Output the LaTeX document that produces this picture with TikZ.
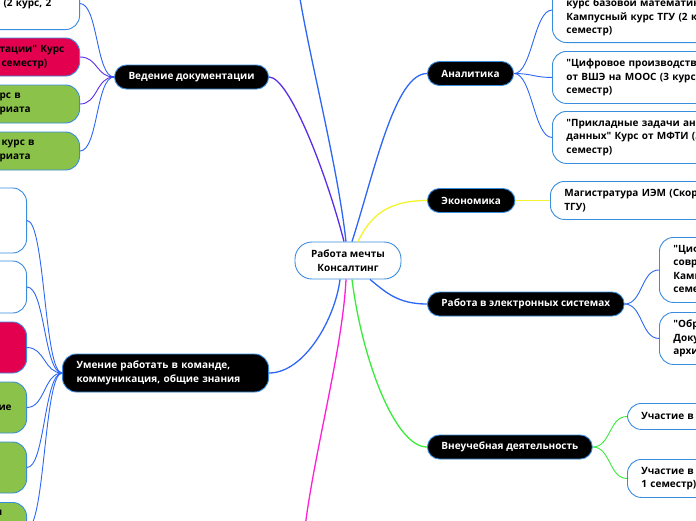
\documentclass[tikz,border=0pt]{standalone}
\usepackage{fontspec}
\setmainfont{Open Sans}[Ligatures=TeXOff]
\usetikzlibrary{positioning}

\definecolor{edgeblue}{HTML}{3A8DDE}
\definecolor{linkblue}{HTML}{2E66F5}
\definecolor{linkpurple}{HTML}{5A2DE8}
\definecolor{linkyellow}{HTML}{F4F42E}
\definecolor{linkgreen}{HTML}{3BEB3B}
\definecolor{linkpink}{HTML}{FF1FD8}
\definecolor{leafred}{HTML}{E2004F}
\definecolor{leafgreen}{HTML}{8BC34A}

\tikzset{
  root/.style={draw=edgeblue, line width=0.9pt, fill=white, rounded corners=17pt, align=center, minimum width=106pt, minimum height=37pt, inner sep=0pt},
  topic/.style={draw=edgeblue, line width=0.9pt, fill=black, text=white, rounded corners=12pt, align=left, inner xsep=14pt, inner ysep=0pt, minimum height=24pt},
  leaf/.style={draw=edgeblue, line width=0.9pt, fill=white, rounded corners=14pt, align=left, inner xsep=14pt, inner ysep=0pt},
  leafred/.style={leaf, fill=leafred},
  leafgreen/.style={leaf, fill=leafgreen},
  rightleaf/.style={leaf, text width=260pt, anchor=north west},
  leftleaf/.style={text width=66pt, anchor=east},
  lowleaf/.style={text width=14pt, anchor=east},
  mainlink/.style={line width=1.3pt},
  sublink/.style={line width=0.9pt}
}

\begin{document}
\begin{tikzpicture}[x=1pt, y=-1pt, every node/.append style={font=\fontsize{10pt}{13.5pt}\selectfont\bfseries}]
\useasboundingbox (0,0) rectangle (696,520);
\clip (0,0) rectangle (696,520);
\fill[white] (0,0) rectangle (696,520);

\node[root] (dream) at (348,260.5) {Работа мечты\\Консалтинг};

\node[topic, anchor=east] (docs) at (269,77) {Ведение документации};
\node[topic, anchor=west] (analytics) at (427,73.5) {Аналитика};
\node[topic, anchor=west] (economy) at (427,200.5) {Экономика};
\node[topic, anchor=west] (esystems) at (427,304) {Работа в электронных системах};
\node[topic, anchor=west] (extra) at (427,447) {Внеучебная деятельность};
\node[topic, anchor=east, minimum height=38pt, text width=178pt, rounded corners=14pt] (team) at (269,373) {Умение работать в команде,\\коммуникация, общие знания};

\node[rightleaf, minimum height=65pt, anchor=south west] (anl1) at (552,43) {\strut\\курс базовой математики\\Кампусный курс ТГУ (2 курс, 2\\семестр)};
\node[rightleaf, minimum height=52pt] (anl2) at (552,51) {"Цифровое производство"\\от ВШЭ на МООС (3 курс, 1\\семестр)};
\node[rightleaf, minimum height=52pt] (anl3) at (552,111) {"Прикладные задачи анализа\\данных" Курс от МФТИ (3 курс,\\семестр)};
\node[rightleaf, minimum height=38pt] (eco1) at (550,181) {Магистратура ИЭМ (Скорость\\ТГУ)};
\node[rightleaf, minimum height=65pt] (esys1) at (659,237) {"Цифровая\\современного\\Кампусный\\семестр)};
\node[rightleaf, minimum height=52pt] (esys2) at (659,312) {"Обработка\\Документов\\архивов};
\node[rightleaf, minimum height=26pt] (extra1) at (627,403) {Участие в олимпиадах};
\node[rightleaf, minimum height=38pt] (extra2) at (627,459) {Участие в конференциях\\1 семестр)};

\node[leaf, leftleaf, minimum height=52pt, anchor=south east] (doc1) at (80,30) {\strut\\\hspace*{4pt}(2 курс, 2\\\strut};
\node[leafred, leftleaf, minimum height=38pt] (doc2) at (80,57) {тации" Курс\\\hspace*{2pt}семестр)};
\node[leafgreen, leftleaf, minimum height=38pt] (doc3) at (80,104) {рс в\\риата};
\node[leafgreen, leftleaf, minimum height=38pt] (doc4) at (80,151) {\hspace*{2pt}курс в\\риата};

\node[leaf, lowleaf, minimum height=65pt] (team1) at (27,220.5) {};
\node[leaf, lowleaf, minimum height=52pt] (team2) at (27,287) {};
\node[leafred, lowleaf, minimum height=51pt] (team3) at (27,347.5) {};
\node[leafgreen, lowleaf, minimum height=51pt] (team4) at (27,407.5) {\strut\\ие\\\strut};
\node[leafgreen, lowleaf, minimum height=51pt] (team5) at (27,467.5) {};
\node[leafgreen, lowleaf, minimum height=52pt, anchor=north east] (team6) at (27,502) {\hspace*{-3pt}н\\\strut\\\strut};

\coordinate (offtop) at (295,-40);
\coordinate (offbottom) at (302,560);

\draw[mainlink, linkpurple] ([xshift=-4pt]dream.north) .. controls +(-18,-70) and +(20,0) .. (docs.east);
\draw[mainlink, linkblue] ([xshift=-2pt]dream.north) .. controls +(-10,-90) and +(4,60) .. (offtop);
\draw[mainlink, linkblue] ([xshift=4pt]dream.north) .. controls +(23,-72) and +(-32,0) .. (analytics.west);
\draw[mainlink, linkyellow] ([xshift=10pt]dream.north) .. controls +(12,-25) and +(-40,0) .. (economy.west);
\draw[mainlink, linkblue] ([xshift=22pt]dream.south) .. controls +(15,12) and +(-30,0) .. (esystems.west);
\draw[mainlink, linkblue] ([xshift=-8pt]dream.south) .. controls +(-5,40) and +(35,0) .. (team.east);
\draw[mainlink, linkpink] ([xshift=-2pt]dream.south) .. controls +(-4,80) and +(4,-80) .. (offbottom);
\draw[mainlink, linkgreen] ([xshift=4pt]dream.south) .. controls +(10,80) and +(-32,0) .. (extra.west);

\draw[sublink, linkblue] (analytics.east) .. controls +(18,0) and +(-18,0) .. (anl1.west);
\draw[sublink, linkblue] (analytics.east) .. controls +(18,0) and +(-18,0) .. (anl2.west);
\draw[sublink, linkblue] (analytics.east) .. controls +(18,0) and +(-18,0) .. (anl3.west);
\draw[sublink, linkyellow] (economy.east) -- (eco1.west);
\draw[sublink, linkblue] (esystems.east) .. controls +(18,0) and +(-18,0) .. (esys1.west);
\draw[sublink, linkblue] (esystems.east) .. controls +(18,0) and +(-18,0) .. (esys2.west);
\draw[sublink, linkgreen] (extra.east) .. controls +(18,0) and +(-18,0) .. (extra1.west);
\draw[sublink, linkgreen] (extra.east) .. controls +(18,0) and +(-18,0) .. (extra2.west);

\draw[sublink, linkblue] (docs.west) .. controls +(-18,0) and +(18,0) .. (doc1.east);
\draw[sublink, linkpurple] (docs.west) .. controls +(-18,0) and +(18,0) .. (doc2.east);
\draw[sublink, linkpurple] (docs.west) .. controls +(-18,0) and +(18,0) .. (doc3.east);
\draw[sublink, linkblue] (docs.west) .. controls +(-18,0) and +(18,0) .. (doc4.east);

\draw[sublink, linkblue] (team.west) .. controls +(-18,0) and +(18,0) .. (team1.east);
\draw[sublink, linkblue] (team.west) .. controls +(-18,0) and +(18,0) .. (team2.east);
\draw[sublink, linkblue] (team.west) .. controls +(-18,0) and +(18,0) .. (team3.east);
\draw[sublink, linkblue] (team.west) .. controls +(-18,0) and +(18,0) .. (team4.east);
\draw[sublink, linkblue] (team.west) .. controls +(-18,0) and +(18,0) .. (team5.east);
\draw[sublink, linkblue] (team.west) .. controls +(-18,0) and +(18,0) .. (team6.east);
\end{tikzpicture}
\end{document}
